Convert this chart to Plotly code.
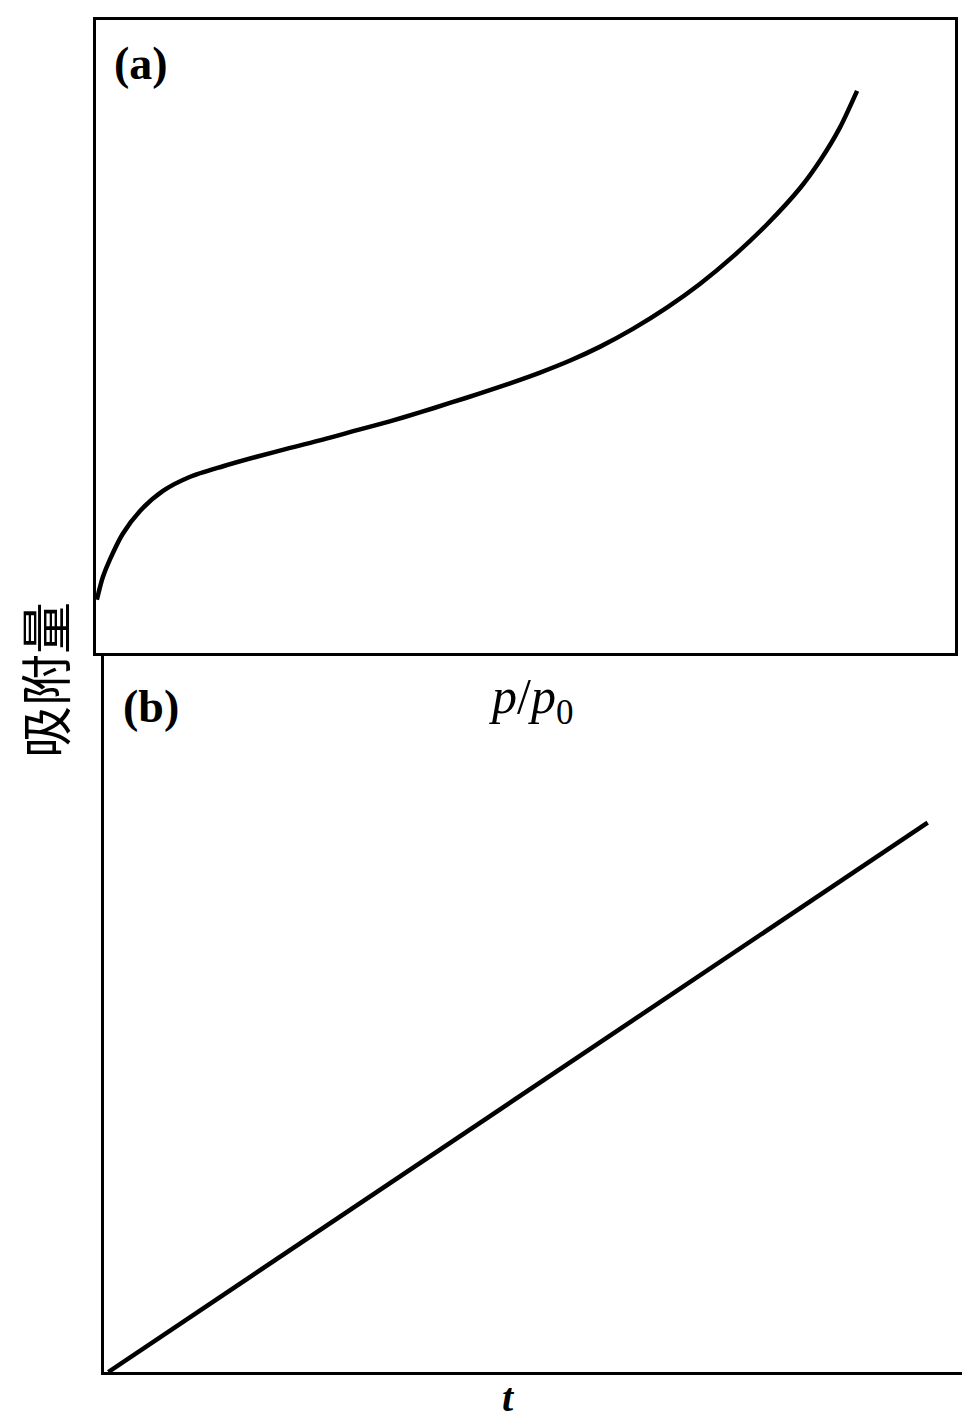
import plotly.graph_objects as go

W, H = 962, 1423

# (a) adsorption isotherm: relative pressure vs adsorbed amount (relative units)
p_rel = [0.001, 0.005, 0.008, 0.016, 0.031, 0.051, 0.078, 0.109, 0.148, 0.187,
         0.226, 0.264, 0.304, 0.342, 0.377, 0.412, 0.447, 0.482, 0.517, 0.552,
         0.587, 0.625, 0.665, 0.703, 0.742, 0.781, 0.820, 0.843, 0.866, 0.886]
amount_a = [0.084, 0.106, 0.120, 0.147, 0.188, 0.224, 0.256, 0.278, 0.295, 0.310,
            0.324, 0.337, 0.352, 0.366, 0.380, 0.395, 0.410, 0.426, 0.443, 0.462,
            0.484, 0.512, 0.546, 0.583, 0.627, 0.677, 0.735, 0.778, 0.830, 0.888]

# (b) t-plot: film thickness vs adsorbed amount
t_vals = [0.005, 0.960]
amount_b = [0.0, 0.764]

def px_x(p):
    return p / W

def px_y(p):
    return 1 - p / H

fig = go.Figure()
fig.add_trace(go.Scatter(x=p_rel, y=amount_a, mode="lines",
                         line=dict(color="black", width=4.5, shape="spline", smoothing=0.8),
                         xaxis="x", yaxis="y", showlegend=False, hoverinfo="skip"))
fig.add_trace(go.Scatter(x=t_vals, y=amount_b, mode="lines", line=dict(color="black", width=4.5),
                         xaxis="x2", yaxis="y2", showlegend=False, hoverinfo="skip"))

top_y0, top_y1 = 653, 20
bot_y0, bot_y1 = 1372, 653

axis_common = dict(showgrid=False, zeroline=False, showticklabels=False, ticks="",
                   showline=True, linecolor="black", linewidth=3)

fig.update_layout(
    width=W, height=H, margin=dict(l=0, r=0, t=0, b=0),
    paper_bgcolor="white", plot_bgcolor="white",
    xaxis=dict(domain=[px_x(96), px_x(955)], range=[0, 1], mirror=True, anchor="y", **axis_common),
    yaxis=dict(domain=[px_y(top_y0), px_y(top_y1)], range=[0, 1], mirror=True, anchor="x", **axis_common),
    xaxis2=dict(domain=[px_x(104), px_x(962)], range=[0, 1], anchor="y2", **axis_common),
    yaxis2=dict(domain=[px_y(bot_y0), px_y(bot_y1)], range=[0, 1], anchor="x2", **axis_common),
)

serif = "Liberation Serif, Times New Roman, serif"
ann = [
    dict(text="<b>(a)</b>", x=px_x(141), y=px_y(64), yanchor="middle",
         font=dict(family=serif, size=46, color="black")),
    dict(text="<b>(b)</b>", x=px_x(151), y=px_y(706), yanchor="middle",
         font=dict(family=serif, size=46, color="black")),
    dict(text="<i>p</i>/<i>p</i><sub>0</sub>", x=px_x(531), y=px_y(700), yanchor="middle",
         font=dict(family=serif, size=50, color="black")),
    dict(text="<b><i>t</i></b>", x=px_x(508), y=px_y(1422), yanchor="bottom",
         font=dict(family=serif, size=40, color="black")),
    dict(text="吸附量", x=px_x(43), y=px_y(680), yanchor="middle", textangle=-90,
         font=dict(family="Noto Sans CJK SC", size=52, color="black")),
]
for a in ann:
    a.update(xref="paper", yref="paper", showarrow=False, xanchor="center")
fig.update_layout(annotations=ann)

fig.write_html("out.html")
